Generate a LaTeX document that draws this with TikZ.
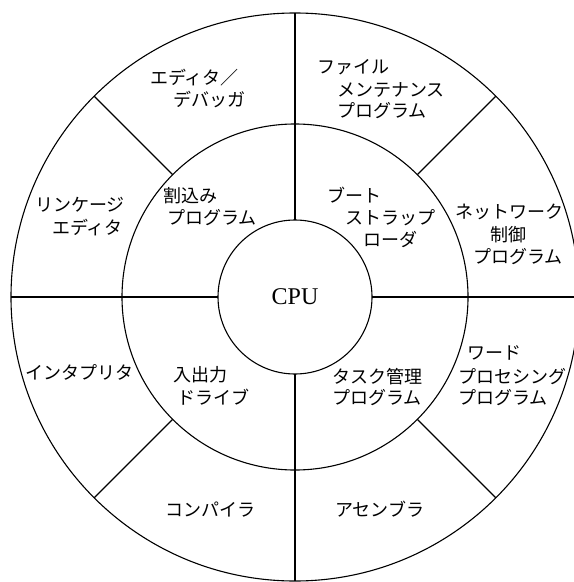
\documentclass[tikz,border=0pt]{standalone}
\usepackage{fontspec}
\newfontfamily\jp{Noto Sans CJK JP}
\newfontfamily\cpufont{Liberation Serif}
\begin{document}
\begin{tikzpicture}[x=1bp,y=-1bp,line width=1.1bp,
  ring/.style={circle,draw,inner sep=0pt,outer sep=0pt},
  lbl/.style={anchor=west,inner sep=0pt,outer sep=0pt,
    font=\jp\fontsize{18bp}{22bp}\selectfont,text height=15.8bp,text depth=2.2bp}]
\useasboundingbox (0,0) rectangle (574,582);
\fill[white] (0,0) rectangle (574,582);
\clip (0,0) rectangle (574,582);
\coordinate (c) at (295,297);
\node[ring,minimum size=568bp] (outer) at (c) {};
\node[ring,minimum size=346bp] (mid) at (c) {};
\node[ring,minimum size=154bp,font=\cpufont\fontsize{24bp}{26bp}\selectfont] (cpu) at (c) {CPU};
% spokes
\draw (cpu.north) -- (outer.north);
\draw (cpu.south) -- (outer.south);
\draw (cpu.west) -- (outer.west);
\draw (cpu.east) -- (outer.east);
\draw (mid.45) -- (outer.45);
\draw (mid.135) -- (outer.135);
\draw (mid.225) -- (outer.225);
\draw (mid.315) -- (outer.315);
% labels
\node[lbl] (ed1) at (150,78) {エディタ／};
\node[lbl] (ed2) at (173,100) {デバッガ};
\node[lbl] (fi1) at (317,67) {ファイル};
\node[lbl] (fi2) at (337,90) {メンテナンス};
\node[lbl] (fi3) at (337,111) {プログラム};
\node[lbl] (li1) at (35,205) {リンケージ};
\node[lbl] (li2) at (52,228) {エディタ};
\node[lbl] (wa1) at (163,196) {割込み};
\node[lbl] (wa2) at (167,218) {プログラム};
\node[lbl] (bu1) at (327,196) {ブート};
\node[lbl] (bu2) at (345,218) {ストラップ};
\node[lbl] (bu3) at (363,240) {ローダ};
\node[lbl] (ne1) at (455,212) {ネットワーク};
\node[lbl] (ne2) at (490,235) {制御};
\node[lbl] (ne3) at (473,257) {プログラム};
\node[lbl] (in1) at (25,373) {インタプリタ};
\node[lbl] (io1) at (173,375) {入出力};
\node[lbl] (io2) at (177,398) {ドライブ};
\node[lbl] (ta1) at (332,377) {タスク管理};
\node[lbl] (ta2) at (332,398) {プログラム};
\node[lbl] (wo1) at (467,353) {ワード};
\node[lbl] (wo2) at (458,377) {プロセシング};
\node[lbl] (wo3) at (458,398) {プログラム};
\node[lbl] (co1) at (165,510) {コンパイラ};
\node[lbl] (as1) at (335,510) {アセンブラ};
\end{tikzpicture}
\end{document}
